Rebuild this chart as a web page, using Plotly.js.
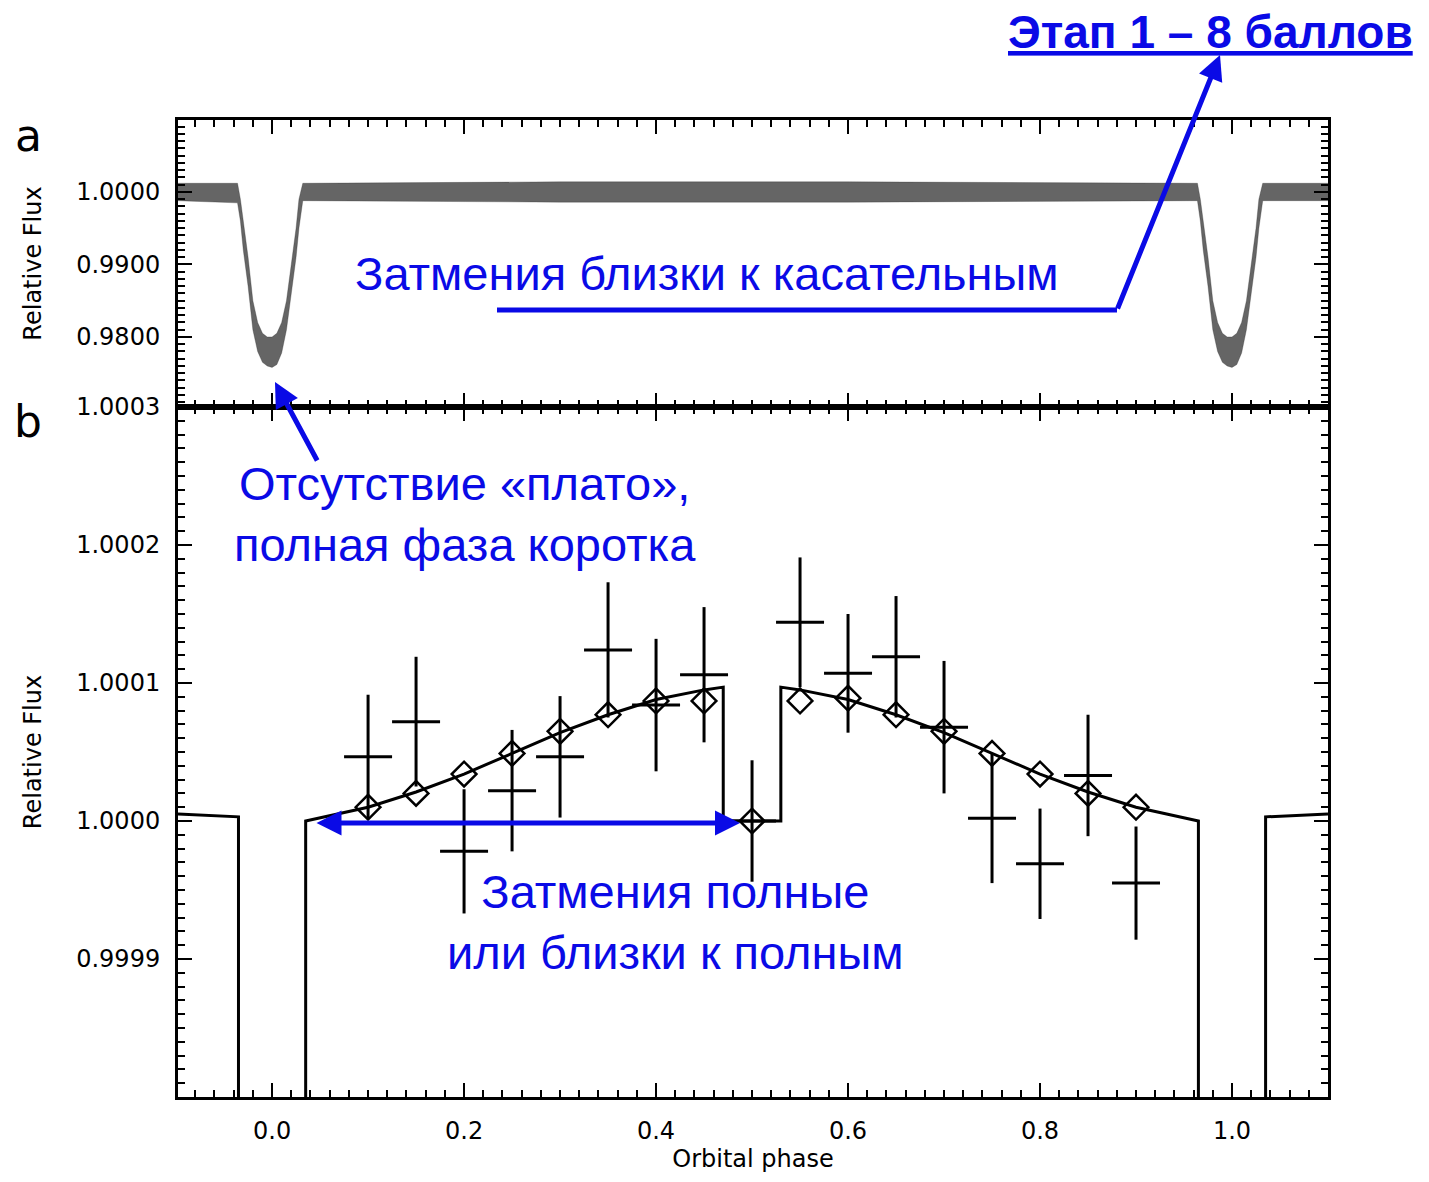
<!DOCTYPE html>
<html>
<head>
<meta charset="utf-8">
<script src="https://cdn.plot.ly/plotly-3.0.1.min.js"></script>
<style>
  html, body { margin: 0; padding: 0; background: #fff; }
  #chart { width: 1429px; height: 1182px; }
</style>
</head>
<body>
<div id="chart"></div>
<script>
// ── Panel a: light-curve envelope (upper / lower edges of the point cloud) ──
const phaseA = [-0.098, -0.036, -0.033, -0.03, -0.025, -0.02, -0.015, -0.01, -0.005, 0, 0.005, 0.01, 0.015, 0.02, 0.025, 0.028, 0.032,
                0.3, 0.6, 0.964, 0.967, 0.97, 0.975, 0.98, 0.985, 0.99, 0.995, 1.0, 1.005, 1.01, 1.015, 1.02, 1.025, 1.028, 1.032, 1.1];
const upperA = [1.0012, 1.0012, 0.9990, 0.9960, 0.9910, 0.9850, 0.9820, 0.9805, 0.9800, 0.9800, 0.9805, 0.9820, 0.9850, 0.9900, 0.9950, 0.9990, 1.0012,
                1.0014, 1.0014, 1.0012, 0.9990, 0.9960, 0.9910, 0.9850, 0.9820, 0.9805, 0.9800, 0.9800, 0.9805, 0.9820, 0.9850, 0.9900, 0.9950, 0.9990, 1.0012, 1.0012];
const lowerA = [0.9988, 0.9985, 0.9960, 0.9920, 0.9870, 0.9810, 0.9780, 0.9765, 0.9760, 0.9758, 0.9762, 0.9778, 0.9810, 0.9860, 0.9910, 0.9950, 0.9988,
                0.9986, 0.9986, 0.9988, 0.9960, 0.9920, 0.9870, 0.9810, 0.9780, 0.9765, 0.9760, 0.9758, 0.9762, 0.9778, 0.9810, 0.9860, 0.9910, 0.9950, 0.9988, 0.9988];

// ── Panel b: model curve ──
const phaseModel = [-0.098, -0.035, -0.035, 0.035, 0.035, 0.1, 0.15, 0.2, 0.25, 0.3, 0.35, 0.4, 0.45, 0.47, 0.47, 0.53, 0.53,
                    0.55, 0.6, 0.65, 0.7, 0.75, 0.8, 0.85, 0.9, 0.965, 0.965, 1.035, 1.035, 1.1];
const fluxModel  = [1.000005, 1.000003, 0.9997, 0.9997, 1.0000, 1.000010, 1.000021, 1.000034, 1.000049, 1.000064, 1.000077, 1.000088, 1.000095, 1.000097, 1.0000, 1.0000, 1.000097,
                    1.000095, 1.000088, 1.000077, 1.000064, 1.000049, 1.000034, 1.000021, 1.000010, 1.0000, 0.9997, 0.9997, 1.000003, 1.000005];

// binned model (diamonds)
const phaseBin = [0.1, 0.15, 0.2, 0.25, 0.3, 0.35, 0.4, 0.45, 0.5, 0.55, 0.6, 0.65, 0.7, 0.75, 0.8, 0.85, 0.9];
const fluxBin  = [1.000010, 1.000020, 1.000034, 1.000049, 1.000065, 1.000077, 1.000087, 1.000087, 1.0000, 1.000087, 1.000089, 1.000077, 1.000065, 1.000049, 1.000034, 1.000020, 1.000010];

// measured points with errors
const fluxObs = [1.0000465, 1.000072, 0.999978, 1.000022, 1.0000465, 1.000124, 1.000084, 1.000106, 1.0000, 1.000144, 1.000107, 1.000119, 1.000068, 1.000002, 0.999969, 1.000033, 0.999955];
const errObs  = [0.000045, 0.000047, 0.000045, 0.000044, 0.000044, 0.000049, 0.000048, 0.000049, 0.000044, 0.000047, 0.000043, 0.000044, 0.000048, 0.000047, 0.000040, 0.000044, 0.000041];
const errPhase = 0.025;

const BLUE = '#0a0ae6';
const FONT = 'DejaVu Sans, sans-serif';
const ARIAL = 'Liberation Sans, Arial, sans-serif';

// pixel → paper helper (plot area 178..1328 x, 120..1097 y)
const P = (px, py) => ({ x: (px - 178) / 1150, y: 1 - (py - 120) / 977 });
const splitY = 1 - (407 - 120) / 977;

const axisBase = {
  showline: true, linecolor: '#000', linewidth: 3, mirror: 'ticks',
  ticks: 'inside', ticklen: 14, tickwidth: 2, tickcolor: '#000',
  showgrid: false, zeroline: false, ticklabelstandoff: 10,
  tickfont: { family: FONT, size: 24, color: '#000' },
};

const traces = [
  { x: phaseA, y: lowerA, xaxis: 'x2', yaxis: 'y2', mode: 'lines', line: { color: 'rgba(40,40,40,0.6)', width: 0.5 }, hoverinfo: 'skip' },
  { x: phaseA, y: upperA, xaxis: 'x2', yaxis: 'y2', mode: 'lines', fill: 'tonexty', fillcolor: 'rgba(50,50,50,0.75)', line: { color: 'rgba(40,40,40,0.6)', width: 0.5 }, hoverinfo: 'skip' },
  { x: phaseModel, y: fluxModel, mode: 'lines', line: { color: '#000', width: 3 } },
  { x: phaseBin, y: fluxObs, mode: 'markers', marker: { size: 1, color: '#000' },
    error_y: { type: 'data', array: errObs, color: '#000', thickness: 3, width: 0 },
    error_x: { type: 'constant', value: errPhase, color: '#000', thickness: 3, width: 0 } },
  { x: phaseBin, y: fluxBin, mode: 'markers',
    marker: { symbol: 'diamond-open', size: 19, color: '#000', line: { width: 2.5, color: '#000' } } },
];

const a1 = P(1220, 55), a1t = P(1117, 310), lstart = P(497, 310);
const a2 = P(275, 382);
const txt = (px, py, text, size, color, family) => {
  const p = P(px, py);
  return { xref: 'paper', yref: 'paper', x: p.x, y: p.y, xanchor: 'center', yanchor: 'middle', text, showarrow: false,
           align: 'center', font: { family, size, color } };
};
const layout = {
  width: 1429, height: 1182,
  paper_bgcolor: '#fff', plot_bgcolor: '#fff',
  showlegend: false,
  margin: { l: 178, r: 101, t: 120, b: 85 },
  xaxis: { ...axisBase, range: [-0.098, 1.1], tickvals: [0, 0.2, 0.4, 0.6, 0.8, 1.0], ticktext: ['0.0','0.2','0.4','0.6','0.8','1.0'],
           minor: { dtick: 0.02, ticks: 'inside', ticklen: 7, tickcolor: '#000' }, anchor: 'y',
           title: { text: 'Orbital phase', font: { family: FONT, size: 24, color: '#000' }, standoff: 4 } },
  yaxis: { ...axisBase, domain: [0, splitY], range: [0.9998, 1.0003], tickvals: [0.9999, 1.0, 1.0001, 1.0002, 1.0003], tickformat: '.4f',
           minor: { dtick: 0.00001, ticks: 'inside', ticklen: 7, tickcolor: '#000' },
           title: { text: 'Relative Flux', font: { family: FONT, size: 24, color: '#000' }, standoff: 28 } },
  xaxis2: { ...axisBase, range: [-0.098, 1.1], anchor: 'y2', matches: 'x', showticklabels: false,
            tickvals: [0, 0.2, 0.4, 0.6, 0.8, 1.0], minor: { dtick: 0.02, ticks: 'inside', ticklen: 7, tickcolor: '#000' } },
  yaxis2: { ...axisBase, domain: [splitY, 1], range: [0.97034, 1.00993], tickvals: [0.98, 0.99, 1.0], tickformat: '.4f',
            minor: { dtick: 0.001, ticks: 'inside', ticklen: 7, tickcolor: '#000' },
            title: { text: 'Relative Flux', font: { family: FONT, size: 24, color: '#000' }, standoff: 28 } },
  shapes: [
    { type: 'line', xref: 'paper', yref: 'paper', x0: lstart.x, y0: lstart.y, x1: a1t.x, y1: a1t.y, line: { color: BLUE, width: 5 } },
  ],
  annotations: [
    txt(28, 135, 'a', 44, '#000', FONT),
    txt(28, 422, 'b', 44, '#000', FONT),
    txt(1210, 32, '<b><u>Этап 1 – 8 баллов</u></b>', 46, BLUE, ARIAL),
    txt(707, 273, 'Затмения близки к касательным', 47, BLUE, ARIAL),
    txt(465, 514, 'Отсутствие «плато»,<br>полная фаза коротка', 47, BLUE, ARIAL),
    txt(675, 922, 'Затмения полные<br>или близки к полным', 47, BLUE, ARIAL),
    { xref: 'paper', yref: 'paper', x: a1.x, y: a1.y, ax: a1t.x, ay: a1t.y, axref: 'paper', ayref: 'paper', text: '', showarrow: true,
      arrowhead: 2, arrowsize: 1, arrowwidth: 5, arrowcolor: BLUE },
    { xref: 'paper', yref: 'paper', x: a2.x, y: a2.y, ax: P(318, 462).x, ay: P(318, 462).y, axref: 'paper', ayref: 'paper', text: '', showarrow: true,
      arrowhead: 2, arrowsize: 1, arrowwidth: 5, arrowcolor: BLUE },
    { xref: 'paper', yref: 'paper', x: P(740, 823).x, y: P(740, 823).y, ax: P(315, 823).x, ay: P(315, 823).y, axref: 'paper', ayref: 'paper',
      text: '', showarrow: true, arrowhead: 2, startarrowhead: 2, arrowside: 'end+start', arrowsize: 1, arrowwidth: 5, arrowcolor: BLUE },
  ],
};

Plotly.newPlot('chart', traces, layout, { displayModeBar: false });
</script>
</body>
</html>
